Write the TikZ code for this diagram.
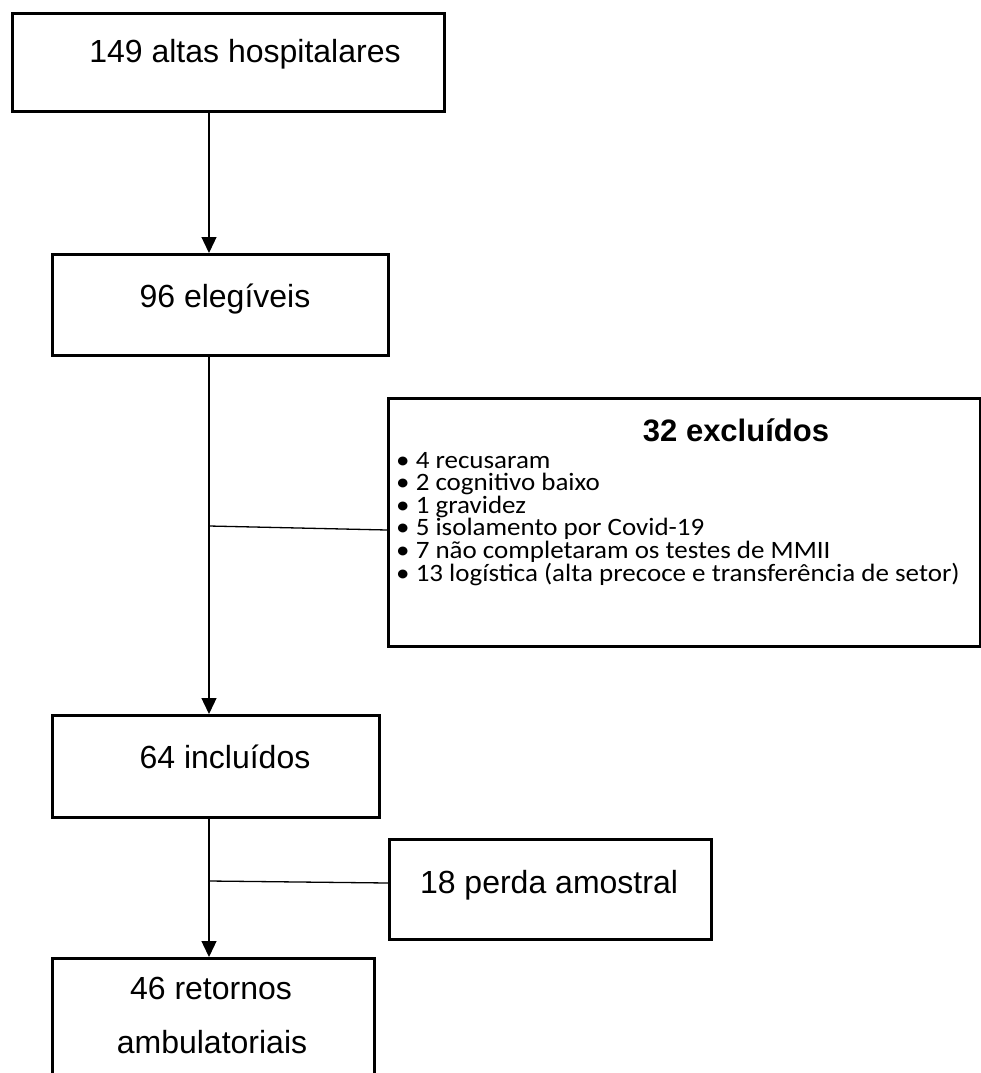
\documentclass[tikz,border=0pt]{standalone}
\usepackage{fontspec}
\setmainfont{Liberation Sans}
\newfontfamily\calib[FakeStretch=1.08]{Carlito}
\usetikzlibrary{arrows.meta}
\begin{document}
\begin{tikzpicture}[x=1pt,y=-1pt,
  box/.style={draw, line width=2.8pt, inner sep=0pt, anchor=north west},
  conn/.style={line width=1.3pt},
  arr/.style={conn, -{Triangle[width=15pt,length=16pt]}},
  lbl/.style={font=\fontsize{32}{38}\selectfont, inner sep=0pt, anchor=base},
  item/.style={font=\calib\fontsize{25}{30}\selectfont, inner sep=0pt, anchor=base west}]
\useasboundingbox (0,0) rectangle (981,1073);
\clip (0,0) rectangle (981,1073);
% boxes
\node[box, minimum width=432pt, minimum height=98pt] (b1) at (11,12) {};
\node[box, minimum width=336pt, minimum height=101pt] (b2) at (51,253) {};
\node[box, minimum width=592pt, minimum height=248pt] (b32) at (387,397) {};
\node[box, minimum width=327pt, minimum height=102pt] (b3) at (51,714) {};
\node[box, minimum width=322pt, minimum height=100pt] (b18) at (388,838) {};
\node[box, minimum width=322pt, minimum height=200pt] (b4) at (51,957) {};
% labels
\node[lbl] (t1) at (245,63) {149 altas hospitalares};
\node[lbl] (t2) at (225,307) {96 elegíveis};
\node[lbl] (t3) at (225,768) {64 incluídos};
\node[lbl] (t18) at (549,893) {18 perda amostral};
\node[lbl] (t4a) at (211,999) {46 retornos};
\node[lbl] (t4b) at (212,1053) {ambulatoriais};
\node[lbl, font=\fontsize{31}{36}\selectfont\bfseries] (t32) at (736,441) {32 excluídos};
\node[item] (i1) at (396,468) {• 4 recusaram};
\node[item] (i2) at (396,490.6) {• 2 cognitivo baixo};
\node[item] (i3) at (396,513.2) {• 1 gravidez};
\node[item] (i4) at (396,535.8) {• 5 isolamento por Covid-19};
\node[item] (i5) at (396,558.4) {• 7 não completaram os testes de MMII};
\node[item] (i6) at (396,581) {• 13 logística (alta precoce e transferência de setor)};
% connectors
\coordinate (tr) at (209,0);
\coordinate (j1) at (209,526);
\coordinate (e1) at (387,530);
\coordinate (j2) at (209,881);
\coordinate (e2) at (388,883);
\draw[arr] (tr |- b1.south) -- (tr |- b2.north);
\draw[arr] (tr |- b2.south) -- (tr |- b3.north);
\draw[arr] (tr |- b3.south) -- (tr |- b4.north);
\draw[conn] (j1) -- (e1);
\draw[conn] (j2) -- (e2);
\end{tikzpicture}
\end{document}
